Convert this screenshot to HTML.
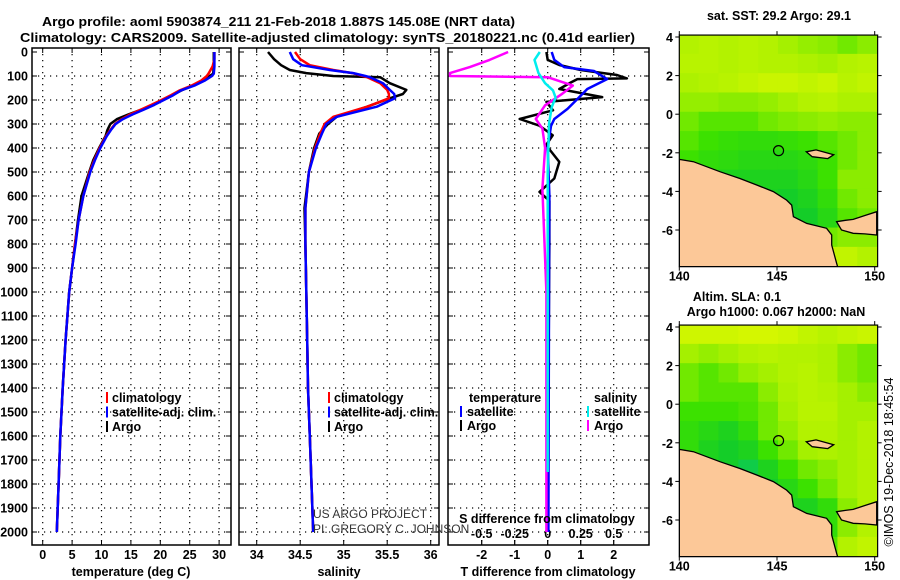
<!DOCTYPE html>
<html><head><meta charset="utf-8"><style>
body{margin:0;background:#fff}
svg{display:block;font-family:"Liberation Sans",Arial,sans-serif}
.b{font-weight:bold;font-size:12.5px}
</style></head><body>
<svg id="c" width="900" height="580" xmlns="http://www.w3.org/2000/svg">
<text x="42" y="26" class="b" textLength="473" lengthAdjust="spacingAndGlyphs" font-size="13">Argo profile: aoml 5903874_211 21-Feb-2018 1.887S 145.08E (NRT data)</text>
<text x="20" y="42" class="b" textLength="615" lengthAdjust="spacingAndGlyphs" font-size="13">Climatology: CARS2009. Satellite-adjusted climatology: synTS_20180221.nc (0.41d earlier)</text>
</svg>
<script>
// ---- data ----
const tDepths=[0,30,60,90,100,120,140,160,180,200,220,240,260,280,300,325,350,400,450,500,600,700,800,900,1000,1200,1400,1600,1800,2000];
const tClim=[29.2,29.2,28.9,28.2,27.9,26.9,25.3,23.3,21.8,20.2,18.5,16.7,14.9,13.4,12.3,11.5,10.8,9.7,8.8,8.0,6.9,6.1,5.5,5.0,4.5,3.9,3.4,3.0,2.7,2.4];
const tSat=[29.2,29.2,29.2,29.1,28.8,27.5,25.8,23.5,22.2,20.6,19.0,17.2,15.3,13.6,12.4,11.6,10.9,9.8,8.9,8.1,6.9,6.1,5.6,5.0,4.5,3.9,3.4,3.0,2.7,2.4];
const tArgo=[29.1,29.1,29.1,29.0,28.4,27.2,25.5,23.6,22.0,20.4,18.8,16.8,14.6,12.6,11.5,11.0,10.7,9.6,8.6,7.9,6.6,6.0,5.5,5.0,4.5,3.9,3.4,3.0,2.7,2.4];
const sDepths=[0,30,55,75,88,100,105,130,158,175,193,228,270,300,340,400,500,650,800,1000,1200,1400,1600,1800,2000];
const sClim=[34.44,34.5,34.61,34.88,35.1,35.22,35.27,35.42,35.5,35.52,35.52,35.27,34.88,34.78,34.73,34.67,34.6,34.56,34.56,34.57,34.58,34.59,34.61,34.63,34.65];
const sSat=[34.38,34.42,34.52,34.84,35.11,35.25,35.3,35.45,35.53,35.58,35.59,35.38,34.92,34.8,34.75,34.68,34.6,34.56,34.56,34.57,34.58,34.59,34.61,34.63,34.65];
const sArgo=[34.13,34.2,34.28,34.38,34.57,34.88,35.42,35.53,35.72,35.68,35.53,35.27,34.92,34.82,34.72,34.66,34.6,34.55,34.56,34.57,34.58,34.59,34.61,34.63,34.65];
const dDepthsT=[0,33,54,75,96,110,113,127,154,188,208,243,279,307,347,388,458,527,583,620,800,1000,1200,1400];
const dTArgo=[-0.04,0,0.35,1.0,2.1,2.4,0.9,0.7,0.35,1.65,-0.04,0.16,-0.85,-0.25,0.15,-0.05,0.35,0.2,-0.25,0.05,0.05,0.04,0.03,0.03];
const dDepthsB=[0,33,63,79,113,154,196,237,279,308,400,600,1000,1500,2000];
const dTSat=[0.12,0.2,0.5,1.4,1.8,1.2,0.9,0.6,0.2,0.1,0.0,0.05,0.04,0.03,0.02];
const dDepthsS=[0,33,63,88,100,105,140,174,222,279,319,400,570,1000,1500,2000];
const dSArgo=[-0.3,-0.44,-0.59,-0.74,-0.74,0.0,0.19,0.11,-0.02,-0.09,-0.04,-0.02,-0.04,-0.01,-0.01,-0.01];
const dDepthsC=[0,33,88,130,160,190,230,300,500,1000,1750];
const dSSat=[-0.06,-0.1,-0.07,-0.02,0.04,0.06,0.03,0.01,0.0,0.0,0.0];
const depthTicks=[0,100,200,300,400,500,600,700,800,900,1000,1100,1200,1300,1400,1500,1600,1700,1800,1900,2000];
const tempTicks=[0,5,10,15,20,25,30];
const salTicks=[34,34.5,35,35.5,36];
const tdTicks=[-2,-1,0,1,2];
const sdTicks=[-0.5,-0.25,0,0.25,0.5];
const sstGrid=[
[.7,.72,.7,.72,.7,.65,.62,.6,.55,.6],
[.72,.72,.7,.72,.7,.7,.68,.65,.7,.72],
[.68,.7,.72,.75,.78,.78,.75,.78,.72,.75],
[.62,.62,.6,.6,.62,.65,.7,.72,.68,.68],
[.55,.5,.5,.5,.55,.58,.6,.62,.6,.6],
[.5,.45,.42,.4,.4,.42,.45,.5,.55,.6],
[.45,.4,.38,.35,.35,.35,.38,.45,.55,.6],
[.4,.35,.3,.3,.3,.3,.35,.45,.6,.6],
[.4,.35,.3,.3,.28,.25,.3,.4,.55,.6],
[.4,.4,.35,.3,.3,.25,.25,.35,.5,.55],
[.5,.5,.5,.5,.5,.4,.4,.55,.6,.6],
[.6,.6,.6,.6,.6,.6,.6,.75,.75,.7]];
const slaGrid=[
[.8,.8,.8,.82,.82,.8,.75,.72,.75,.78],
[.65,.62,.65,.7,.72,.7,.7,.68,.6,.55],
[.55,.5,.55,.62,.65,.7,.72,.68,.6,.55],
[.55,.5,.5,.5,.6,.68,.72,.7,.65,.6],
[.45,.45,.45,.48,.55,.65,.72,.72,.65,.65],
[.4,.35,.3,.4,.55,.62,.7,.7,.65,.7],
[.4,.3,.25,.3,.45,.55,.65,.68,.65,.7],
[.35,.3,.25,.2,.3,.45,.55,.6,.65,.7],
[.4,.35,.3,.2,.25,.35,.45,.55,.65,.7],
[.45,.4,.35,.3,.25,.3,.3,.4,.6,.7],
[.5,.5,.5,.4,.3,.25,.25,.4,.6,.7],
[.5,.5,.5,.4,.3,.1,.05,.5,.7,.75]];
const coastLon=[140,140.72,142.08,143.1,143.96,144.81,145.49,145.75,145.84,146.52,147.54,147.8,147.8,148.05,148.1,140];
const coastLat=[-2.34,-2.46,-2.98,-3.33,-3.67,-4.01,-4.45,-4.71,-5.31,-5.66,-5.91,-6.26,-6.78,-7.72,-7.9,-7.9];
const eastLon=[148.05,148.5,148.9,149.5,150.1,150.1,149.5,148.9,148.3];
const eastLat=[-5.57,-5.5,-5.45,-5.25,-5.05,-6.26,-6.2,-6.17,-6.0];
const islLon=[146.5,147.0,147.9,147.6,146.8];
const islLat=[-1.95,-1.85,-2.1,-2.3,-2.2];
const argoLon=145.08, argoLat=-1.887;
const lonTicks=[140,145,150], latTicks=[4,2,0,-2,-4,-6];

// ---- drawing ----
const svg=document.getElementById('c');const NS='http://www.w3.org/2000/svg';
function el(t,a,p){const e=document.createElementNS(NS,t);for(const k in a)e.setAttribute(k,a[k]);(p||svg).appendChild(e);return e;}
function txt(x,y,s,a,p){const e=el('text',Object.assign({x:x,y:y,'class':'b'},a||{}),p);e.textContent=s;return e;}
const dY=d=>52+d*0.24;
const pTop=48,pBot=545;
function panel(name,x0,x1,xs,ticks,fmt,labelY){
  const g=el('g',{});
  depthTicks.forEach(d=>{if(d>0)el('line',{x1:x0,x2:x1,y1:dY(d),y2:dY(d),stroke:'#000','stroke-width':1.2,'stroke-dasharray':'1.2 4.8'},g);
    el('line',{x1:x0,x2:x0+5,y1:dY(d),y2:dY(d),stroke:'#000'},g);el('line',{x1:x1-5,x2:x1,y1:dY(d),y2:dY(d),stroke:'#000'},g);});
  ticks.forEach(v=>{const x=xs(v);el('line',{x1:x,x2:x,y1:pTop,y2:pBot,stroke:'#000','stroke-width':1.2,'stroke-dasharray':'1.2 4.8'},g);
    el('line',{x1:x,x2:x,y1:pBot-5,y2:pBot,stroke:'#000'},g);el('line',{x1:x,x2:x,y1:pTop,y2:pTop+5,stroke:'#000'},g);
    if(fmt){const t=txt(x,labelY,fmt(v),{'text-anchor':'middle'},g);}});
  el('rect',{x:x0,y:pTop,width:x1-x0,height:pBot-pTop,fill:'none',stroke:'#000','stroke-width':1.5},g);
  return g;
}
function line(g,name,xs,vals,deps,col,w){
  const pts=vals.map((v,i)=>xs(v).toFixed(1)+','+dY(deps[i]).toFixed(1)).join(' ');
  const p=el('polyline',{points:pts,fill:'none',stroke:col,'stroke-width':w||2.5,'stroke-linejoin':'round'},g);
  
}
depthTicks.forEach(d=>{const t=txt(28,dY(d)+4.5,String(d),{'text-anchor':'end'});});

const xT=v=>42.7+v*5.88;
const g1=panel('temperature-panel',32,231,xT,tempTicks,v=>String(v),559);
line(g1,'temperature-argo-line',xT,tArgo,tDepths,'#000');
line(g1,'temperature-climatology-line',xT,tClim,tDepths,'#f00');
line(g1,'temperature-satellite-line',xT,tSat,tDepths,'#00f');
let t=txt(131,576,'temperature (deg C)',{'text-anchor':'middle'});

const xS=v=>256.7+(v-34)*87;
const g2=panel('salinity-panel',239,439,xS,salTicks,v=>String(v),559);
line(g2,'salinity-argo-line',xS,sArgo,sDepths,'#000');
line(g2,'salinity-climatology-line',xS,sClim,sDepths,'#f00');
line(g2,'salinity-satellite-line',xS,sSat,sDepths,'#00f');
t=txt(339,576,'salinity',{'text-anchor':'middle'});

[[106,'p1'],[328,'p2']].forEach(([lx,p])=>{
  [['climatology','#f00'],['satellite-adj. clim.','#00f'],['Argo','#000']].forEach(([s,c],i)=>{
    const y=402+i*14.5;
    const g=el('g',{});
    el('rect',{x:lx,y:y-10,width:2,height:11,fill:c},g);txt(lx+6,y,s,{},g);
  });
});

const xD=v=>547.7+v*33;const xSD=v=>547.7+v*132;
const g3=panel('difference-panel',448,649,xD,tdTicks,v=>String(v),559);
sdTicks.forEach(v=>{const x=xSD(v);el('line',{x1:x,x2:x,y1:pBot-5,y2:pBot,stroke:'#000'},g3);
  const t=txt(x,538,String(v),{'text-anchor':'middle'},g3);});
line(g3,'t-diff-argo-line',xD,dTArgo,dDepthsT,'#000');
line(g3,'t-diff-satellite-line',xD,dTSat,dDepthsB,'#00f');
line(g3,'s-diff-argo-line',xSD,dSArgo,dDepthsS,'#f0f');
line(g3,'s-diff-satellite-line',xSD,dSSat,dDepthsC,'#0ee');
t=txt(547,523,'S difference from climatology',{'text-anchor':'middle'});
t=txt(548,576,'T difference from climatology',{'text-anchor':'middle'});
t=txt(469,402,'temperature');
t=txt(594,402,'salinity');
[['satellite','#00f',460,416],['Argo','#000',460,430],['satellite','#0ee',587,416],['Argo','#f0f',587,430]].forEach(([s,c,x,y],i)=>{
  const g=el('g',{});
  el('rect',{x:x,y:y-10,width:2,height:11,fill:c},g);txt(x+7,y,s,{},g);
});
t=txt(313,518,'US ARGO PROJECT',{'class':'',style:'font-size:12px;fill:#333'});
t=txt(313,533,'PI: GREGORY C. JOHNSON',{'class':'',style:'font-size:12px;fill:#333'});

const mx0=679.3, pxLon=19.54, pxLat=19.3;
function cmap(v){const st=[[0,[0,200,200]],[.25,[20,205,40]],[.45,[60,225,0]],[.65,[165,240,0]],[.85,[220,248,0]],[1,[255,150,0]]];
  for(let i=1;i<st.length;i++)if(v<=st[i][0]){const a=st[i-1],b=st[i],f=(v-a[0])/(b[0]-a[0]);return 'rgb('+a[1].map((c,k)=>Math.round(c+(b[1][k]-c)*f)).join(',')+')';}return 'rgb(255,150,0)';}
function map(name,y4,grid){
  const X=l=>mx0+(l-140)*pxLon, Y=la=>y4+(4-la)*pxLat;
  const g=el('g',{});
  const yTop=Y(4.1),yBot=Y(-7.9);
  const cp=el('clipPath',{id:name+'-clip'},g);el('rect',{x:X(140),y:yTop,width:X(150.15)-X(140),height:yBot-yTop},cp);
  const h=el('g',{'clip-path':'url(#'+name+'-clip)'},g);
  grid.forEach((row,r)=>row.forEach((v,c)=>{const cell=el('rect',{x:X(140+c*1.015)-0.5,y:Y(4.1-r)-0.5,width:pxLon+1.5,height:pxLat+1.2,fill:cmap(v)},h);
    }));
  [[coastLon,coastLat,'land-new-guinea'],[eastLon,eastLat,'land-east'],[islLon,islLat,'land-island']].forEach(([lo,la,n])=>{
    const p=el('polygon',{points:lo.map((l,i)=>X(l).toFixed(1)+','+Y(la[i]).toFixed(1)).join(' '),fill:'#fcc898',stroke:'#000','stroke-width':1.3},h);
    });
  const c=el('circle',{cx:X(argoLon),cy:Y(argoLat),r:5,fill:'none',stroke:'#000','stroke-width':1.2},g);
  
  el('rect',{x:X(140),y:yTop,width:X(150.15)-X(140),height:yBot-yTop,fill:'none',stroke:'#000','stroke-width':1.2},g);
  latTicks.forEach(l=>{el('line',{x1:X(140)-4,x2:X(140),y1:Y(l),y2:Y(l),stroke:'#000'},g);el('line',{x1:X(150.15),x2:X(150.15)+4,y1:Y(l),y2:Y(l),stroke:'#000'},g);
    const tt=txt(673,Y(l)+5,String(l),{'text-anchor':'end','font-size':13},g);});
  lonTicks.forEach(l=>{el('line',{x1:X(l),x2:X(l),y1:yTop-4,y2:yTop,stroke:'#000'},g);el('line',{x1:X(l),x2:X(l),y1:yBot,y2:yBot+4,stroke:'#000'},g);
    const tt=txt(X(l),yBot+14,String(l),{'text-anchor':'middle','font-size':13},g);});
}
map('sst-map',37,sstGrid);
map('sla-map',327,slaGrid);
t=txt(779,20,'sat. SST: 29.2 Argo: 29.1',{'text-anchor':'middle'});
t=txt(737,301,'Altim. SLA: 0.1',{'text-anchor':'middle'});
t=txt(776,316,'Argo h1000: 0.067 h2000: NaN',{'text-anchor':'middle'});
t=txt(0,0,'©IMOS 19-Dec-2018 18:45:54',{'class':'',style:'font-size:12.5px','text-anchor':'middle',transform:'translate(893,462) rotate(-90)'});
</script>
</body></html>
